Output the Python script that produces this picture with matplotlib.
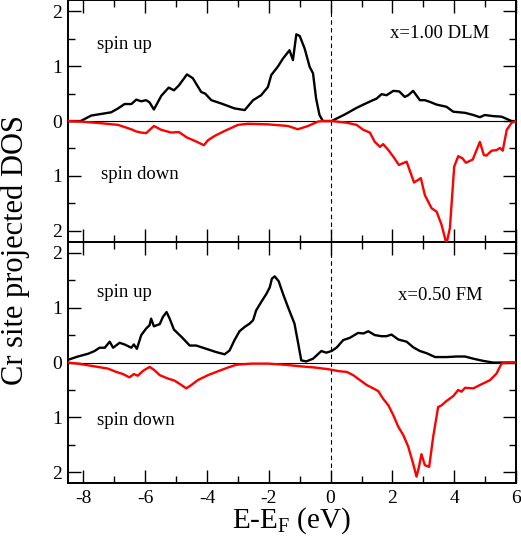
import matplotlib
matplotlib.use('Agg')
import matplotlib.pyplot as plt
from matplotlib.ticker import MultipleLocator, FuncFormatter

plt.rcParams['font.family'] = ['Liberation Serif', 'DejaVu Serif']
plt.rcParams['mathtext.fontset'] = 'custom'
plt.rcParams['mathtext.rm'] = 'Liberation Serif'
plt.rcParams['mathtext.it'] = 'Liberation Serif:italic'
plt.rcParams['axes.unicode_minus'] = False

# x = 1.00 DLM, spin up
e_up_dlm = [-8.5, -8.09, -7.75, -7.31, -7.10, -6.88, -6.67, -6.45, -6.29, -6.13, -5.97, -5.86,
            -5.72, -5.48, -5.24, -5.07, -4.91, -4.65, -4.46, -4.19, -4.06, -3.86, -3.54, -3.11,
            -2.78, -2.51, -2.25, -2.03, -1.92, -1.71, -1.54, -1.33, -1.22, -1.11, -1.00, -0.84,
            -0.68, -0.57, -0.47, -0.36, -0.25, 0.03, 0.46, 0.84, 1.06, 1.33, 1.49, 1.65, 1.81,
            2.03, 2.22, 2.40, 2.51, 2.67, 2.89, 3.05, 3.21, 3.43, 3.75, 3.97, 4.35, 4.62, 4.83,
            4.99, 5.26, 5.53, 5.86, 6.0]
dos_up_dlm = [0, 0, 0.10, 0.14, 0.16, 0.23, 0.31, 0.31, 0.39, 0.36, 0.38, 0.34,
              0.21, 0.46, 0.61, 0.56, 0.65, 0.85, 0.78, 0.53, 0.50, 0.38, 0.32, 0.23,
              0.20, 0.38, 0.47, 0.62, 0.84, 0.99, 1.14, 1.29, 1.11, 1.58, 1.55, 1.32,
              0.99, 0.87, 0.41, 0.11, 0, 0, 0.12, 0.24, 0.30, 0.37, 0.41, 0.49, 0.47,
              0.55, 0.54, 0.44, 0.47, 0.55, 0.38, 0.38, 0.35, 0.30, 0.26, 0.17, 0.15, 0.11, 0.07,
              0.11, 0.09, 0.08, 0, 0]

# x = 1.00 DLM, spin down (magnitude)
e_dn_dlm = [-8.5, -8.09, -7.42, -6.88, -6.45, -6.29, -6.13, -5.97, -5.72, -5.48, -5.16, -4.91,
            -4.65, -4.40, -4.10, -3.97, -3.75, -3.43, -3.00, -2.68, -2.03, -1.38, -1.06, -0.73,
            -0.41, -0.25, 0.03, 0.52, 0.84, 1.06, 1.27, 1.43, 1.60, 1.70, 1.87, 2.03, 2.21,
            2.46, 2.70, 2.92, 3.05, 3.27, 3.43, 3.59, 3.75, 3.86, 4.00, 4.13, 4.27, 4.38, 4.60,
            4.83, 4.96, 5.04, 5.21, 5.37, 5.48, 5.57, 5.70, 5.86, 6.0]
dos_dn_dlm = [0, 0.01, 0.04, 0.07, 0.15, 0.19, 0.21, 0.22, 0.09, 0.16, 0.21, 0.20,
              0.30, 0.36, 0.44, 0.35, 0.27, 0.18, 0.07, 0.05, 0.06, 0.09, 0.15, 0.09,
              0.01, 0, 0, 0.03, 0.07, 0.16, 0.21, 0.38, 0.47, 0.42, 0.53, 0.65, 0.80,
              0.74, 1.12, 1.04, 1.35, 1.59, 1.65, 1.89, 2.24, 1.95, 0.83, 0.64, 0.68, 0.76, 0.70,
              0.38, 0.62, 0.63, 0.54, 0.53, 0.49, 0.54, 0.16, 0.03, 0]

# x = 0.50 FM, spin up
e_up_fm = [-8.5, -8.18, -7.85, -7.64, -7.48, -7.31, -7.15, -7.04, -6.83, -6.67, -6.45, -6.37,
           -6.27, -6.13, -5.97, -5.86, -5.81, -5.72, -5.53, -5.43, -5.31, -5.21, -5.07, -4.83,
           -4.56, -4.35, -3.97, -3.70, -3.43, -3.27, -3.11, -2.95, -2.78, -2.62, -2.51, -2.41,
           -2.25, -2.08, -1.97, -1.90, -1.81, -1.68, -1.54, -1.38, -1.17, -1.06, -0.95, -0.79,
           -0.57, -0.30, -0.14, 0.03, 0.19, 0.41, 0.62, 0.89, 1.06, 1.22, 1.43, 1.65, 1.81,
           1.97, 2.19, 2.46, 2.67, 2.89, 3.11, 3.38, 3.75, 4.08, 4.35, 4.62, 4.94, 5.26, 6.0]
dos_up_fm = [0.05, 0.11, 0.16, 0.21, 0.27, 0.27, 0.38, 0.27, 0.36, 0.33, 0.27, 0.33,
             0.25, 0.50, 0.62, 0.68, 0.80, 0.66, 0.70, 0.83, 0.92, 0.80, 0.60, 0.47,
             0.31, 0.31, 0.24, 0.19, 0.15, 0.22, 0.41, 0.57, 0.65, 0.71, 0.77, 0.95,
             1.10, 1.25, 1.37, 1.53, 1.57, 1.48, 1.25, 1.01, 0.71, 0.38, 0.04, 0.02,
             0.07, 0.21, 0.18, 0.21, 0.27, 0.41, 0.45, 0.54, 0.53, 0.57, 0.50, 0.48, 0.48,
             0.51, 0.42, 0.38, 0.28, 0.21, 0.17, 0.10, 0.10, 0.11, 0.11, 0.07, 0.03, 0.0, 0.0]

# x = 0.50 FM, spin down (magnitude)
e_dn_fm = [-8.5, -8.18, -7.64, -7.21, -6.94, -6.72, -6.51, -6.37, -6.24, -6.07, -5.86, -5.72,
           -5.53, -5.27, -5.05, -4.83, -4.67, -4.51, -4.30, -3.97, -3.65, -3.32, -3.05, -2.57,
           -2.03, -1.49, -0.95, -0.52, -0.09, 0.30, 0.52, 0.73, 0.95, 1.17, 1.38, 1.54, 1.70,
           1.87, 2.03, 2.19, 2.35, 2.51, 2.67, 2.78, 2.86, 2.94, 3.05, 3.19, 3.32, 3.48, 3.59,
           3.75, 3.97, 4.13, 4.24, 4.35, 4.62, 4.83, 5.16, 5.37, 5.53, 5.70, 6.0]
dos_dn_fm = [0, 0.02, 0.07, 0.11, 0.17, 0.21, 0.27, 0.21, 0.24, 0.15, 0.08, 0.13,
             0.23, 0.29, 0.33, 0.41, 0.47, 0.41, 0.32, 0.23, 0.16, 0.09, 0.04, 0.02,
             0.02, 0.04, 0.07, 0.09, 0.12, 0.16, 0.17, 0.23, 0.32, 0.41, 0.47, 0.52, 0.66,
             0.78, 0.96, 1.17, 1.32, 1.53, 1.84, 2.08, 1.90, 1.67, 1.87, 1.90, 1.35, 0.81, 0.78,
             0.70, 0.61, 0.50, 0.53, 0.46, 0.47, 0.41, 0.32, 0.20, 0.02, 0, 0]

W, H = 521, 541
fig = plt.figure(figsize=(W/100, H/100), dpi=100)
left, width = 68/W, 448/W
ph = 241.5/H
ax_bot = fig.add_axes((left, 57.7/H, width, ph))
ax_top = fig.add_axes((left, 57.7/H + ph, width, ph), sharex=ax_bot)

absfmt = FuncFormatter(lambda v, p: '%d' % abs(round(v)))

def panel(ax, e_up, d_up, e_dn, d_dn, tag, tagpos, uppos, dnpos):
	ax.axhline(0, color='black', lw=0.8, zorder=1)
	ax.axvline(0, color='black', lw=0.8, ls=(0, (4, 3)), zorder=1)
	ax.plot(e_up, d_up, color='black', lw=1.7, zorder=2)
	ax.plot(e_dn, [-d for d in d_dn], color='red', lw=1.7, zorder=3)
	ax.set_xlim(-8.5, 6)
	ax.set_ylim(-2.2, 2.2)
	ax.xaxis.set_major_locator(MultipleLocator(2))
	ax.xaxis.set_minor_locator(MultipleLocator(1))
	ax.yaxis.set_major_locator(MultipleLocator(1))
	ax.yaxis.set_minor_locator(MultipleLocator(0.5))
	ax.yaxis.set_major_formatter(absfmt)
	ax.tick_params(which='both', direction='in', top=True, right=True, width=1.0, labelsize=14)
	ax.tick_params(which='major', length=9.7)
	ax.tick_params(which='minor', length=4.7)
	ax.tick_params(axis='y', pad=4)
	ax.tick_params(axis='x', pad=5)
	for s in ax.spines.values():
		s.set_linewidth(1.4)
	ax.text(uppos[0], uppos[1], 'spin up', fontsize=13.5, va='center')
	ax.text(dnpos[0], dnpos[1], 'spin down', fontsize=13.5, va='center')
	ax.text(tagpos[0], tagpos[1], tag, fontsize=13.5, va='center')

panel(ax_top, e_up_dlm, dos_up_dlm, e_dn_dlm, dos_dn_dlm, 'x=1.00 DLM', (1.92, 1.6), (-7.56, 1.4), (-7.44, -0.98))
panel(ax_bot, e_up_fm, dos_up_fm, e_dn_fm, dos_dn_fm, 'x=0.50 FM', (2.17, 1.22), (-7.56, 1.28), (-7.57, -1.06))
ax_top.tick_params(axis='x', labelbottom=False)

fig.text(292/W, (H-528)/H, r'E-E$_\mathrm{F}$ (eV)', fontsize=21, ha='center', va='baseline')
fig.text(15/W, (H-250)/H, 'Cr site projected DOS', fontsize=22, rotation=90, ha='center', va='center')

fig.savefig('out.png', dpi=100)
